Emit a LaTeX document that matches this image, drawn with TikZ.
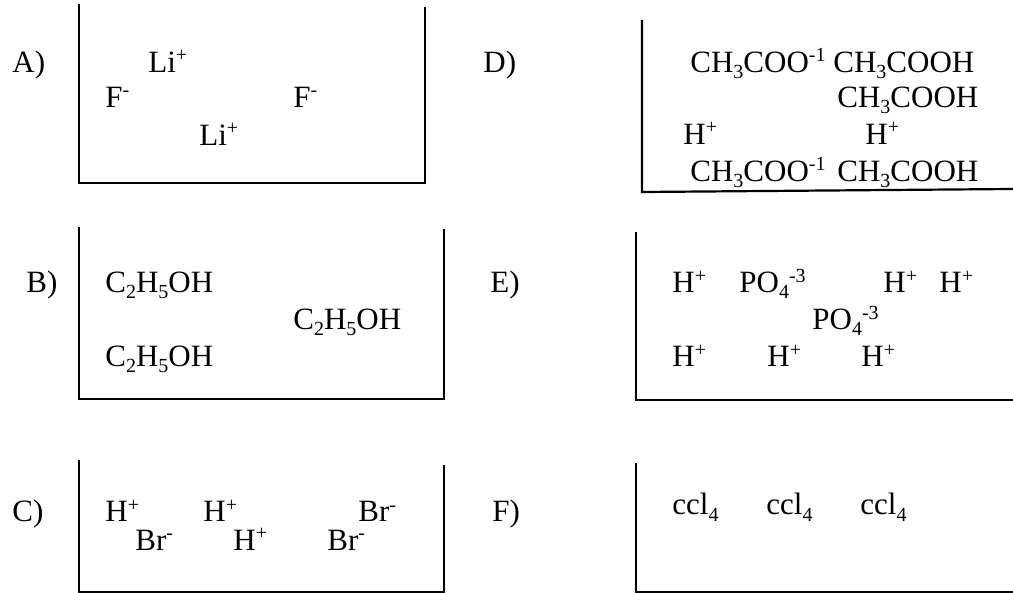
\documentclass[tikz,border=0pt]{standalone}
\usepackage{fontspec}
\setmainfont{Liberation Serif}

\newcommand{\up}[1]{\raisebox{5.5pt}{\fontsize{10}{12}\selectfont #1}}
\newcommand{\dn}[1]{\raisebox{-3pt}{\fontsize{10}{12}\selectfont #1}}
\newcommand{\hion}{H\up{+}}
\newcommand{\liion}{Li\up{+}}
\newcommand{\fion}{F\up{-}}
\newcommand{\brion}{Br\up{-}}
\newcommand{\acetate}{CH\dn{3}COO\up{-1}}
\newcommand{\acetic}{CH\dn{3}COOH}
\newcommand{\ethanol}{C\dn{2}H\dn{5}OH}
\newcommand{\phosph}{PO\dn{4}\up{-3}}
\newcommand{\tetra}{ccl\dn{4}}

\begin{document}
\begin{tikzpicture}[
  x=0.5pt, y=-0.5pt,
  font=\fontsize{15.5}{19}\selectfont,
  ion/.style={anchor=base west, inner sep=0pt},
  tag/.style={anchor=base west, inner sep=0pt},
  wall/.style={line width=1.1pt}
]
  \useasboundingbox (0,0) rectangle (1013,593);

  % ---- beakers ----
  \draw[wall] (79,4) -- (79,183) -- (425,183) -- (425,7);
  \draw[wall] (642,20) -- (642,192) -- (1013,189);
  \draw[wall] (79,227) -- (79,399) -- (444,399) -- (444,229);
  \draw[wall] (636,232) -- (636,400) -- (1013,400);
  \draw[wall] (79,460) -- (79,592) -- (444,592) -- (444,465);
  \draw[wall] (636,463) -- (636,592) -- (1013,592);

  % ---- labels ----
  \node[tag] (tagA) at (12,73) {A)};
  \node[tag] (tagB) at (26,293) {B)};
  \node[tag] (tagC) at (12,522) {C)};
  \node[tag] (tagD) at (483,73) {D)};
  \node[tag] (tagE) at (490,293) {E)};
  \node[tag] (tagF) at (492,521) {F)};

  % ---- A: LiF ----
  \node[ion] (liA1) at (148,73) {\liion};
  \node[ion] (fA1) at (105,108) {\fion};
  \node[ion] (fA2) at (293,108) {\fion};
  \node[ion] (liA2) at (199,146) {\liion};

  % ---- B: ethanol ----
  \node[ion] (etB1) at (105,293) {\ethanol};
  \node[ion] (etB2) at (293,330) {\ethanol};
  \node[ion] (etB3) at (105,367) {\ethanol};

  % ---- C: HBr ----
  \node[ion] (hC1) at (105,522) {\hion};
  \node[ion] (hC2) at (203,522) {\hion};
  \node[ion] (brC1) at (358,522) {\brion};
  \node[ion] (brC2) at (135,550) {\brion};
  \node[ion] (hC3) at (233,550) {\hion};
  \node[ion] (brC3) at (327,550) {\brion};

  % ---- D: acetic acid ----
  \node[ion] (acD1) at (690,73) {\acetate};
  \node[ion] (aaD1) at (833,73) {\acetic};
  \node[ion] (aaD2) at (837,108) {\acetic};
  \node[ion] (hD1) at (683,145) {\hion};
  \node[ion] (hD2) at (865,145) {\hion};
  \node[ion] (acD2) at (690,182) {\acetate};
  \node[ion] (aaD3) at (837,182) {\acetic};

  % ---- E: phosphoric acid ----
  \node[ion] (hE1) at (672,293) {\hion};
  \node[ion] (poE1) at (739,293) {\phosph};
  \node[ion] (hE2) at (883,293) {\hion};
  \node[ion] (hE3) at (939,293) {\hion};
  \node[ion] (poE2) at (812,330) {\phosph};
  \node[ion] (hE4) at (672,367) {\hion};
  \node[ion] (hE5) at (767,367) {\hion};
  \node[ion] (hE6) at (861,367) {\hion};

  % ---- F: carbon tetrachloride ----
  \node[ion] (ccF1) at (672,515) {\tetra};
  \node[ion] (ccF2) at (766,515) {\tetra};
  \node[ion] (ccF3) at (860,515) {\tetra};
\end{tikzpicture}
\end{document}
